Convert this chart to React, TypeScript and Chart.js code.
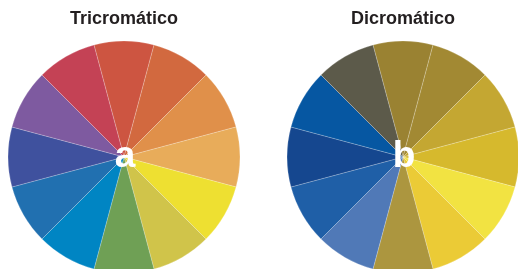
import React, { useEffect, useRef } from "react";
import { Chart, registerables } from "chart.js";

Chart.register(...registerables);

const hues = ["1", "2", "3", "4", "5", "6", "7", "8", "9", "10", "11", "12"];
const sliceValues = [1, 1, 1, 1, 1, 1, 1, 1, 1, 1, 1, 1];
const trichromaticColors = [
  "#CD5541", "#D2693F", "#E0904A", "#E8AC5A", "#EEE031", "#D0C44A",
  "#6FA055", "#0085C3", "#2170B0", "#3F519E", "#7E5AA0", "#C44255",
];
const dichromaticColors = [
  "#9A8232", "#A28933", "#C4A732", "#D6B92D", "#F2E342", "#EBCB36",
  "#AC963F", "#5079B7", "#1F5FA7", "#15478F", "#0657A2", "#5C5A4A",
];
const titles = ["Tricromático", "Dicromático"];
const centerLetters = ["a", "b"];

const FONT = '"Liberation Sans", Arial, Helvetica, sans-serif';

function Wheel({ title, letter, colors, left }: { title: string; letter: string; colors: string[]; left: number }) {
  const ref = useRef<HTMLCanvasElement | null>(null);
  useEffect(() => {
    if (!ref.current) return;
    const letterPlugin = {
      id: "centerLetter",
      afterDatasetsDraw(chart: any) {
        const meta = chart.getDatasetMeta(0);
        const arc = meta.data[0];
        if (!arc) return;
        const { x, y } = arc.getProps(["x", "y"], true);
        const ctx = chart.ctx;
        ctx.save();
        ctx.font = `bold 37px ${FONT}`;
        ctx.fillStyle = "#ffffff";
        ctx.textAlign = "center";
        ctx.textBaseline = "alphabetic";
        ctx.fillText(letter, x + 1, y + 10);
        ctx.restore();
      },
    };
    const chart = new Chart(ref.current, {
      type: "pie",
      data: {
        labels: hues,
        datasets: [
          {
            data: sliceValues,
            backgroundColor: colors,
            borderColor: "rgba(255,255,255,0.35)",
            borderWidth: 0.6,
            hoverOffset: 0,
          },
        ],
      },
      options: {
        responsive: false,
        animation: false,
        devicePixelRatio: 1,
        rotation: -15,
        radius: 116,
        layout: { padding: { top: 0, bottom: 23, left: 0, right: 0 } },
        plugins: {
          legend: { display: false },
          tooltip: { enabled: false },
          title: {
            display: true,
            text: title,
            color: "#231F20",
            font: { family: FONT, size: 18, weight: "bold" },
            padding: { top: 8, bottom: 7.4 },
          },
        },
      },
      plugins: [letterPlugin],
    });
    return () => chart.destroy();
  }, [title, letter, colors]);
  return (
    <canvas
      ref={ref}
      width={260}
      height={300}
      style={{ position: "absolute", left, top: 0, width: 260, height: 300 }}
    />
  );
}

export default function App() {
  return (
    <div
      style={{
        position: "fixed",
        left: 0,
        top: 0,
        width: 518,
        height: 269,
        overflow: "hidden",
        background: "#ffffff",
      }}
    >
      <Wheel title={titles[0]} letter={centerLetters[0]} colors={trichromaticColors} left={-6} />
      <Wheel title={titles[1]} letter={centerLetters[1]} colors={dichromaticColors} left={273} />
    </div>
  );
}
